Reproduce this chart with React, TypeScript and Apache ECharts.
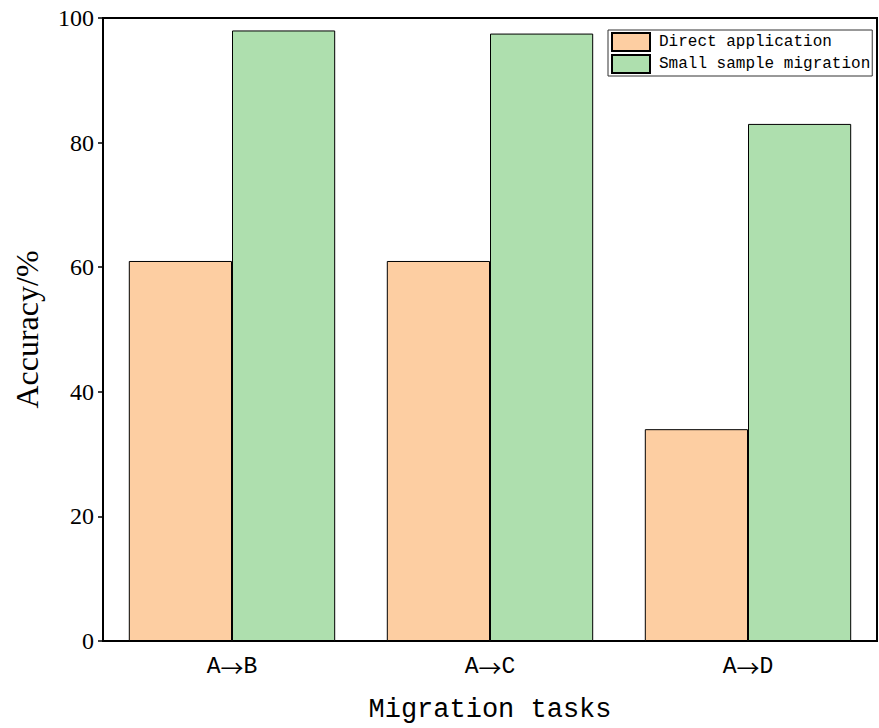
import React, { useEffect, useRef } from "react";
import * as echarts from "echarts";

const categories = ["A\u2192B", "A\u2192C", "A\u2192D"];
const directApplication = [61, 61, 34];
const smallSampleMigration = [98, 97.5, 83];
const yTicks = [0, 20, 40, 60, 80, 100];

const monoFont = "'Liberation Mono', monospace";
const serifFont = "'Liberation Serif', serif";

export default function App() {
  const ref = useRef<HTMLDivElement>(null);
  useEffect(() => {
    if (!ref.current) return;
    const chart = echarts.init(ref.current, null, { renderer: "svg" });
    chart.setOption({
      animation: false,
      backgroundColor: "#fff",
      grid: {
        left: 103,
        right: 2,
        top: 18,
        bottom: 83,
        show: true,
        borderColor: "#000",
        borderWidth: 2,
      },
      legend: {
        orient: "vertical",
        left: 608,
        top: 30,
        icon: "rect",
        itemWidth: 38,
        itemHeight: 18,
        itemGap: 2,
        padding: [2, 2, 2, 3],
        borderColor: "#333",
        borderWidth: 1,
        textStyle: { fontFamily: monoFont, fontSize: 16, color: "#000", padding: [0, 0, 0, 4] },
        data: ["Direct application", "Small sample migration"],
      },
      xAxis: {
        type: "category",
        data: categories,
        name: "Migration tasks",
        nameLocation: "middle",
        nameGap: 55,
        nameTextStyle: { fontFamily: monoFont, fontSize: 27, color: "#000" },
        axisLine: { lineStyle: { color: "#000", width: 2 } },
        axisTick: { show: false },
        axisLabel: {
          fontFamily: monoFont,
          fontSize: 23,
          color: "#000",
          margin: 14,
          formatter: (v: string) => v.replace("\u2192", "{a|\u2192}"),
          rich: {
            a: { fontFamily: "'Noto Sans CJK SC', sans-serif", fontSize: 23, color: "#000" },
          },
        },
      },
      yAxis: {
        type: "value",
        min: yTicks[0],
        max: yTicks[yTicks.length - 1],
        interval: 20,
        name: "Accuracy/%",
        nameLocation: "middle",
        nameGap: 60,
        nameTextStyle: { fontFamily: serifFont, fontSize: 32, color: "#000" },
        axisLine: { show: true, lineStyle: { color: "#000", width: 2 } },
        axisTick: { show: true, length: 5, lineStyle: { color: "#000", width: 1.5 } },
        axisLabel: { fontFamily: serifFont, fontSize: 24, color: "#000", margin: 9 },
        splitLine: { show: false },
      },
      series: [
        {
          name: "Direct application",
          type: "bar",
          data: directApplication,
          barGap: "0%",
          barCategoryGap: "20%",
          itemStyle: { color: "#FDCEA2", borderColor: "#000", borderWidth: 1 },
        },
        {
          name: "Small sample migration",
          type: "bar",
          data: smallSampleMigration,
          barGap: "0%",
          barCategoryGap: "20%",
          itemStyle: { color: "#AEDFAE", borderColor: "#000", borderWidth: 1 },
        },
      ],
    });
    return () => chart.dispose();
  }, []);
  return <div ref={ref} style={{ width: 879, height: 728, position: "absolute", left: 0, top: 0 }} />;
}
